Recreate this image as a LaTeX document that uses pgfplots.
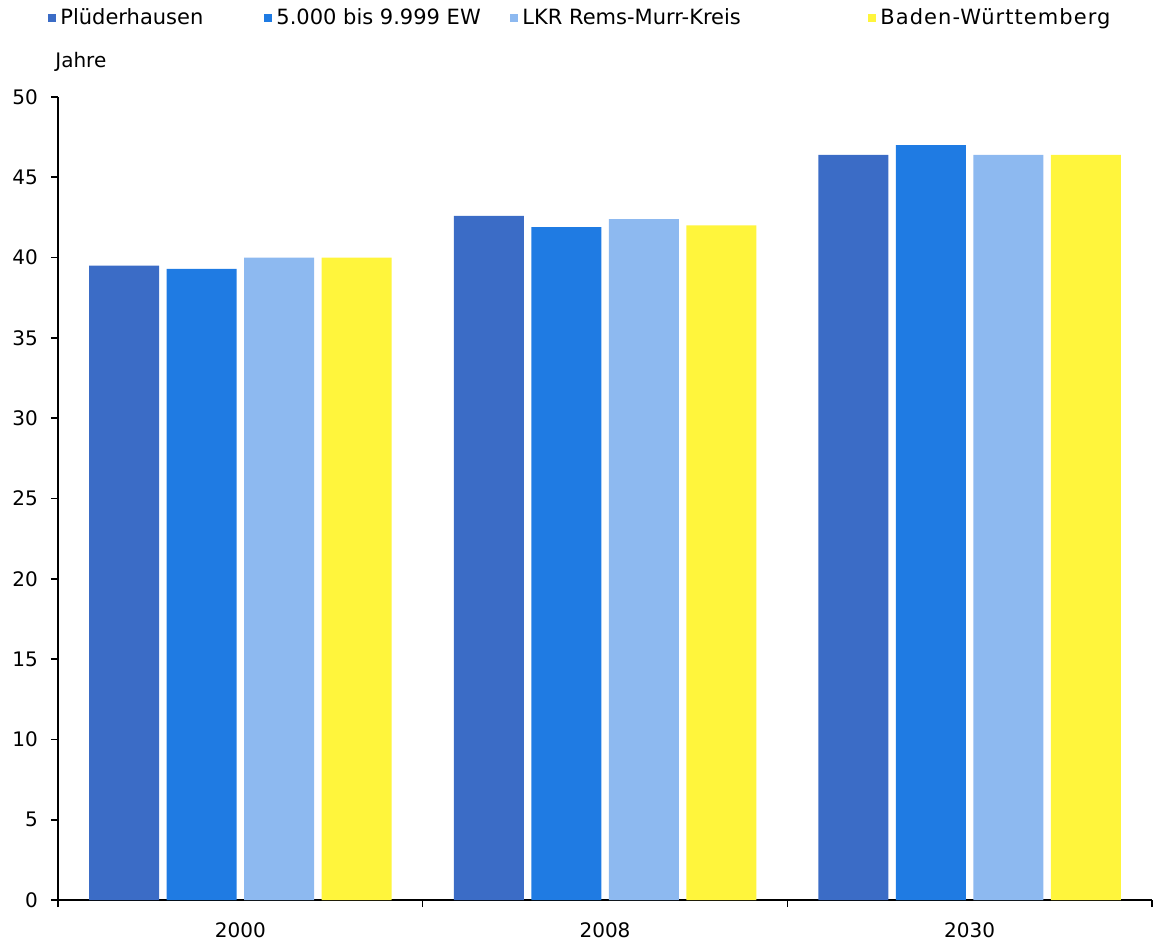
\documentclass[border=0pt]{standalone}
\usepackage{pgfplots}
\pgfplotsset{compat=1.18}
\usepackage{fontspec}
\setmainfont{DejaVu Sans}
\definecolor{cPl}{HTML}{3B6CC6}
\definecolor{cEW}{HTML}{1F7BE3}
\definecolor{cLKR}{HTML}{8DB9F0}
\definecolor{cBW}{HTML}{FFF53C}
\begin{document}
\begin{tikzpicture}
\begin{axis}[
  name=ax,
  scale only axis,
  width=547pt, height=401.5pt,
  ybar=3.75pt, bar width=35pt,
  xmin=-0.5, xmax=2.5,
  ymin=0, ymax=50,
  xtick={-0.5,0.5,1.5,2.5},
  xticklabels={},
  extra x ticks={0,1,2},
  extra x tick labels={2000,2008,2030},
  extra x tick style={major tick length=0pt},
  ytick={0,5,...,50},
  axis x line*=bottom, axis y line*=left,
  axis line style={line width=1pt,-},
  tick align=outside,
  major tick length=3.5pt,
  tick style={line width=0.8pt,black},
  tick label style={font=\fontsize{10}{12}\selectfont},
  /pgf/number format/assume math mode=true,
  yticklabel style={xshift=-3pt},
  xticklabel style={yshift=-8pt},
  legend style={draw=none, fill=none, at={(rel axis cs:0,1)}, anchor=west,
    xshift=-8pt, yshift=39.5pt, font=\fontsize{10.5}{12}\selectfont,
    /tikz/every even column/.append style={column sep=0pt}},
  legend columns=4,
  legend cell align=left,
  legend image code/.code={\fill[#1] (0pt,-2pt) rectangle (4pt,2pt);},
]
\addplot[fill=cPl, draw=none] coordinates {(0,39.5) (1,42.6) (2,46.4)};
\addlegendentry{\makebox[100pt][l]{Plüderhausen}}
\addplot[fill=cEW, draw=none] coordinates {(0,39.3) (1,41.9) (2,47.0)};
\addlegendentry{\makebox[115pt][l]{5.000 bis 9.999 EW}}
\addplot[fill=cLKR, draw=none] coordinates {(0,40.0) (1,42.4) (2,46.4)};
\addlegendentry{\makebox[171pt][l]{LKR Rems-Murr-Kreis}}
\addplot[fill=cBW, draw=none] coordinates {(0,40.0) (1,42.0) (2,46.4)};
\addlegendentry{\addfontfeatures{LetterSpace=5}Baden-Württemberg}
\end{axis}
\node[anchor=west, font=\fontsize{10}{12}\selectfont, inner sep=0pt] at ([xshift=-1.5pt,yshift=17.5pt]ax.north west) {Jahre};
\pgfresetboundingbox
\path[use as bounding box] ([xshift=-29pt,yshift=-23pt]ax.south west) rectangle ([xshift=2.5pt,yshift=48.5pt]ax.north east);
\end{tikzpicture}
\end{document}
